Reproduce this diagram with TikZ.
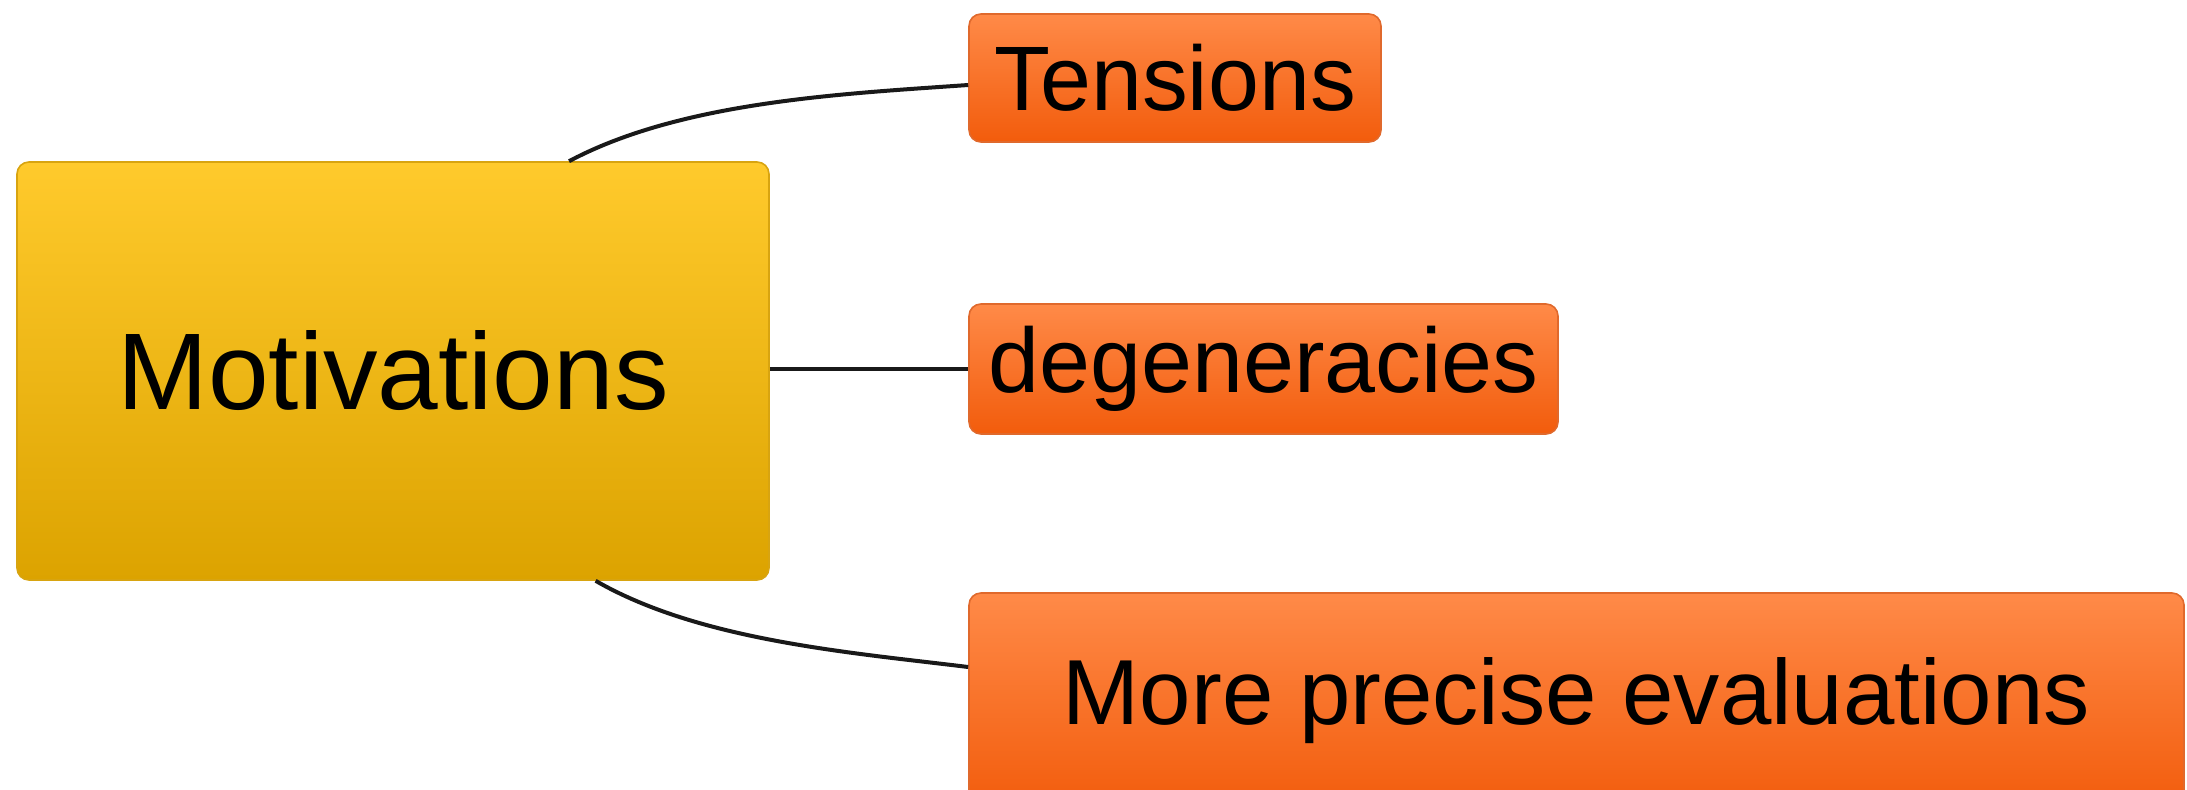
\documentclass[tikz,border=0pt]{standalone}
\usepackage{fontspec}
\setmainfont{Liberation Sans}
\usepackage{tikz}
\definecolor{goldtop}{HTML}{FFCA2C}
\definecolor{goldbot}{HTML}{DCA300}
\definecolor{goldrim}{HTML}{D8A410}
\definecolor{orangetop}{HTML}{FF8A48}
\definecolor{orangebot}{HTML}{F25C0C}
\definecolor{orangerim}{HTML}{E0692C}

\begin{document}
\begin{tikzpicture}[x=0.5pt, y=0.5pt,
  rootbox/.style={draw=goldrim, line width=0.8pt, rounded corners=6pt,
    top color=goldtop, bottom color=goldbot, inner sep=0pt,
    font=\fontsize{54.5}{60}\selectfont},
  leafbox/.style={draw=orangerim, line width=0.8pt, rounded corners=6pt,
    top color=orangetop, bottom color=orangebot, inner sep=0pt,
    font=\fontsize{45.8}{52}\selectfont},
  links/.style={line width=2pt, black!90}]

 \useasboundingbox (0,0) rectangle (2187,789);

 \node[rootbox, minimum width=376pt, minimum height=209pt] (motive_1) at (393,418)
     {\raisebox{-2pt}{Motivations}};

 \node[leafbox, minimum width=206pt, minimum height=64pt] (branch_2) at (1175,711)
     {Tensions};

 \node[leafbox, minimum width=294.5pt, minimum height=65pt] (branch_3) at (1263.5,420)
     {degeneracies};

 \node[leafbox, minimum width=607.5pt, minimum height=108pt,
       font=\fontsize{46.2}{52}\selectfont] (branch_4) at (1576.5,88)
     {More precise evaluations};

 \coordinate (end_2) at ([yshift=-3.5pt]branch_2.west);
 \coordinate (end_4) at ([yshift=17pt]branch_4.west);

 \draw [links] (motive_1.50.5) to [out=28, in=184, looseness=0.8] (end_2);
 \draw [links] (motive_1.east |- branch_3.west) -- (branch_3.west);
 \draw [links] (motive_1.-46.3) to [out=-30, in=173, looseness=0.8] (end_4);

\end{tikzpicture}
\end{document}
